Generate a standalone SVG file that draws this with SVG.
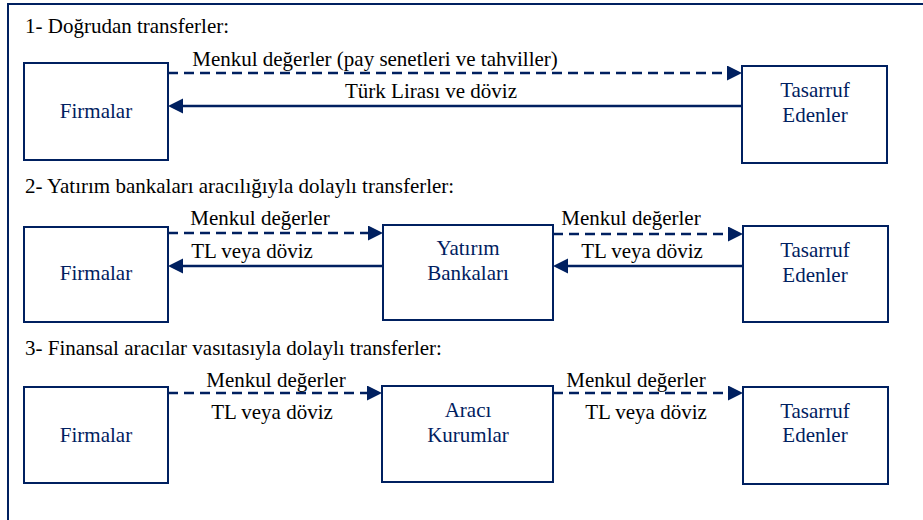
<svg xmlns="http://www.w3.org/2000/svg" width="923" height="520" viewBox="0 0 923 520">
<defs>
<style>
.frame{fill:none;stroke:#002060;stroke-width:2}
.box{fill:#fff;stroke:#002060;stroke-width:2}
text{font-family:'Liberation Serif','Times New Roman',Times,'DejaVu Serif',serif;font-size:21px}
.nt{fill:#002060;text-anchor:middle}
.lt{fill:#000;text-anchor:middle}
.ht{fill:#000}
.sol{fill:none;stroke:#002060;stroke-width:2.5;marker-end:url(#ah)}
.dash{fill:none;stroke:#002060;stroke-width:2.5;stroke-dasharray:10 6;marker-end:url(#ah)}
</style>
<marker id="ah" markerUnits="userSpaceOnUse" markerWidth="16" markerHeight="16" refX="10" refY="7.5" orient="auto">
<path d="M0,0 L15,7.5 L0,15 z" fill="#002060"/>
</marker>
</defs>
<rect width="923" height="520" fill="#fff"/>
<path class="frame" d="M8,520 V4 H923"/>

<text class="ht" x="25" y="33" font-family="Liberation Serif, serif">1- Doğrudan transferler:</text>
<text class="ht" x="25" y="193" font-family="Liberation Serif, serif">2- Yatırım bankaları aracılığıyla dolaylı transferler:</text>
<text class="ht" x="25" y="355" font-family="Liberation Serif, serif">3- Finansal aracılar vasıtasıyla dolaylı transferler:</text>

<g id="connectors">
<path class="dash" d="M168,73 H737"/>
<path class="sol" d="M742,106 H173"/>
<text class="lt" x="375" y="66">Menkul değerler (pay senetleri ve tahviller)</text>
<text class="lt" x="431" y="98">Türk Lirası ve döviz</text>

<path class="dash" d="M168,233 H378"/>
<path class="sol" d="M383,266 H173"/>
<text class="lt" x="260" y="225">Menkul değerler</text>
<text class="lt" x="252" y="258">TL veya döviz</text>
<path class="dash" d="M553,234 H738"/>
<path class="sol" d="M743,266 H558"/>
<text class="lt" x="631" y="225">Menkul değerler</text>
<text class="lt" x="642" y="258">TL veya döviz</text>

<path class="dash" d="M168,393 H377"/>
<text class="lt" x="276" y="387">Menkul değerler</text>
<text class="lt" x="272" y="419">TL veya döviz</text>
<path class="dash" d="M553,393 H738"/>
<text class="lt" x="636" y="387">Menkul değerler</text>
<text class="lt" x="646" y="419">TL veya döviz</text>
</g>

<g id="firmalar1"><rect class="box" x="24" y="63" width="144" height="97"/><text class="nt" x="96" y="118">Firmalar</text></g>
<g id="tasarruf1"><rect class="box" x="742" y="66" width="145" height="97"/><text class="nt" x="815" y="97">Tasarruf</text><text class="nt" x="815" y="122">Edenler</text></g>

<g id="firmalar2"><rect class="box" x="24" y="227" width="144" height="95"/><text class="nt" x="96" y="280">Firmalar</text></g>
<g id="yatirim"><rect class="box" x="383" y="225" width="170" height="95"/><text class="nt" x="468" y="255">Yatırım</text><text class="nt" x="468" y="280">Bankaları</text></g>
<g id="tasarruf2"><rect class="box" x="743" y="226" width="145" height="96"/><text class="nt" x="815" y="257">Tasarruf</text><text class="nt" x="815" y="282">Edenler</text></g>

<g id="firmalar3"><rect class="box" x="24" y="387" width="144" height="96"/><text class="nt" x="96" y="442">Firmalar</text></g>
<g id="araci"><rect class="box" x="382" y="386" width="171" height="96"/><text class="nt" x="468" y="417">Aracı</text><text class="nt" x="468" y="442">Kurumlar</text></g>
<g id="tasarruf3"><rect class="box" x="743" y="387" width="145" height="97"/><text class="nt" x="815" y="418">Tasarruf</text><text class="nt" x="815" y="442">Edenler</text></g>
</svg>
